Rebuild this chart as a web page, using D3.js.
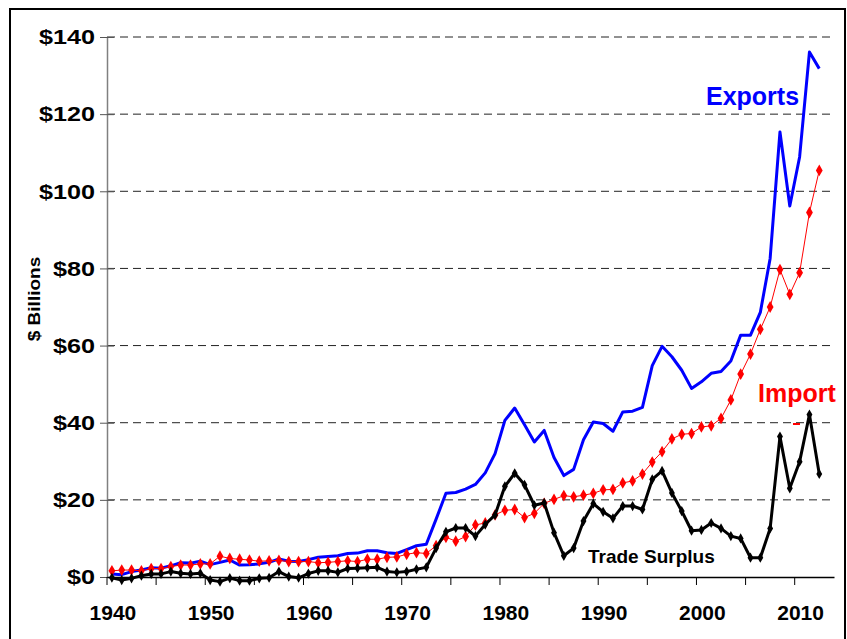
<!DOCTYPE html>
<html>
<head>
<meta charset="utf-8">
<script src="https://cdn.jsdelivr.net/npm/d3@7"></script>
<style>
  body { margin: 0; background: #fff; }
  svg { display: block; font-family: "Liberation Sans", Arial, sans-serif; }
</style>
</head>
<body>
<div id="chart"></div>
<script>
// categories: 1940..2013 on the axis, data through 2012
var years = [1940,1941,1942,1943,1944,1945,1946,1947,1948,1949,
             1950,1951,1952,1953,1954,1955,1956,1957,1958,1959,
             1960,1961,1962,1963,1964,1965,1966,1967,1968,1969,
             1970,1971,1972,1973,1974,1975,1976,1977,1978,1979,
             1980,1981,1982,1983,1984,1985,1986,1987,1988,1989,
             1990,1991,1992,1993,1994,1995,1996,1997,1998,1999,
             2000,2001,2002,2003,2004,2005,2006,2007,2008,2009,
             2010,2011,2012];
var axisYears = years.concat([2013]);

var exportVals = [0.8,0.6,1.4,1.8,2.4,2.3,2.9,3.7,3.6,4.1,
               3.2,3.8,4.4,3.1,3.2,3.4,3.8,4.7,4.1,4.0,
               4.5,5.1,5.3,5.5,6.1,6.2,6.8,6.8,6.3,6.1,
               7.1,8.1,8.5,15.0,21.7,21.9,22.8,24.0,27.0,32.0,
               40.6,43.8,39.5,35.0,38.0,31.0,26.3,27.9,35.6,40.2,
               39.8,37.8,42.8,43.0,44.0,54.8,59.8,57.1,53.6,48.9,
               50.6,52.8,53.3,56.0,62.7,62.7,68.6,82.6,115.4,96.2,
               108.9,136.1,131.8];

var importVals = [1.6,1.8,1.8,1.6,2.2,2.2,2.7,3.1,3.1,3.4,
               3.4,5.4,4.8,4.6,4.4,4.1,4.2,4.3,4.0,4.0,
               4.0,3.7,3.8,4.0,4.2,4.0,4.6,4.6,5.1,5.2,
               5.9,6.3,6.1,8.1,10.3,9.3,10.5,13.5,14.0,16.1,
               17.3,17.5,15.4,16.5,19.1,20.1,21.1,20.8,21.2,21.7,
               22.6,22.7,24.4,24.9,26.7,29.8,32.5,35.8,37.0,37.2,
               38.9,39.2,41.1,45.9,52.6,57.8,64.2,70.0,79.7,73.3,
               78.9,94.5,105.4];

var surplusVals = [-0.2,-0.8,-0.35,0.35,0.8,0.8,1.4,0.95,0.8,0.95,
               -0.8,-1.2,-0.3,-0.95,-0.95,-0.35,-0.2,1.4,0.1,-0.2,
               0.9,1.6,1.6,1.2,2.2,2.3,2.4,2.5,1.4,1.2,
               1.4,2.0,2.5,7.5,11.7,12.7,12.7,10.6,13.6,16.1,
               23.5,26.9,23.9,18.6,19.2,11.5,5.5,7.5,14.5,19.0,
               16.9,15.2,18.4,18.4,17.5,25.3,27.5,21.8,17.1,12.0,
               12.2,14.0,12.6,10.6,10.0,5.0,5.0,12.6,36.4,23.0,
               29.9,42.1,26.7];

var yTicks = [0, 20, 40, 60, 80, 100, 120, 140];
var xLabelYears = [1940, 1950, 1960, 1970, 1980, 1990, 2000, 2010];

var W = 847, H = 639;
var plotL = 107, plotR = 834, plotT = 37, plotB = 577;

var svg = d3.select("#chart").append("svg").attr("width", W).attr("height", H);

// outer frame
svg.append("rect").attr("x", 10).attr("y", 9).attr("width", 835).attr("height", 660)
  .attr("fill", "none").attr("stroke", "#000").attr("stroke-width", 2);

var x = d3.scaleBand().domain(axisYears).range([plotL, plotR]).padding(0);
var y = d3.scaleLinear().domain([0, 140]).range([plotB, plotT]);
var cx = function(yr) { return x(yr) + x.bandwidth() / 2; };

// dashed gridlines
svg.append("g").selectAll("line").data(yTicks.filter(function(d) { return d > 0; }))
  .enter().append("line")
  .attr("x1", plotL).attr("x2", plotR)
  .attr("y1", function(d) { return y(d); }).attr("y2", function(d) { return y(d); })
  .attr("stroke", "#222").attr("stroke-width", 1).attr("stroke-dasharray", "8,5");

// y axis
var yAxis = d3.axisLeft(y).tickValues(yTicks).tickSize(0).tickPadding(10)
  .tickFormat(function(d) { return "$" + d; });
var gy = svg.append("g").attr("transform", "translate(" + plotL + ",0)").call(yAxis);
gy.select(".domain").attr("stroke", "#808080").attr("stroke-width", 1.5);
gy.selectAll(".tick text").attr("font-size", 21).attr("font-weight", "bold")
  .attr("fill", "#000").attr("font-family", "Liberation Sans, Arial, sans-serif")
  .attr("transform", "scale(1.2,1)");
gy.selectAll(".tick").append("line").attr("x1", -7).attr("x2", 7)
  .attr("stroke", "#555").attr("stroke-width", 1);

// x axis
var tickYears = axisYears.filter(function(d, i) { return i % 5 === 0; });
var xAxis = d3.axisBottom(x).tickValues(tickYears).tickSize(0).tickFormat("");
var gx = svg.append("g").attr("transform", "translate(0," + plotB + ")").call(xAxis);
gx.select(".domain").attr("stroke", "#000").attr("stroke-width", 1.5);
gx.selectAll(".tick").remove();
gx.selectAll("line.tk").data(tickYears).enter().append("line").attr("class", "tk")
  .attr("x1", function(d) { return x(d); }).attr("x2", function(d) { return x(d); })
  .attr("y1", 0).attr("y2", 8).attr("stroke", "#000").attr("stroke-width", 1);
gx.selectAll("text.lbl").data(xLabelYears).enter().append("text").attr("class", "lbl")
  .attr("x", function(d) { return cx(d) + 1; }).attr("y", 43)
  .attr("text-anchor", "middle").attr("font-size", 21).attr("font-weight", "bold")
  .attr("fill", "#000").attr("font-family", "Liberation Sans, Arial, sans-serif")
  .text(function(d) { return d; });

// y axis title
svg.append("text").attr("transform", "translate(40,299) rotate(-90) scale(1.12,1)")
  .attr("text-anchor", "middle").attr("font-size", 17).attr("font-weight", "bold")
  .text("$ Billions");

function line(vals) {
  return d3.line().x(function(d, i) { return cx(years[i]); }).y(function(d) { return y(d); })(vals);
}
var diamond = d3.symbol().type(d3.symbolDiamond);

// exports
svg.append("path").attr("d", line(exportVals)).attr("fill", "none")
  .attr("stroke", "#0000ff").attr("stroke-width", 3).attr("stroke-linejoin", "round");

// imports
svg.append("path").attr("d", line(importVals)).attr("fill", "none")
  .attr("stroke", "#ff0000").attr("stroke-width", 1);
svg.append("g").selectAll("path").data(importVals).enter().append("path")
  .attr("d", diamond.size(40)())
  .attr("transform", function(d, i) { return "translate(" + cx(years[i]) + "," + y(d) + ")"; })
  .attr("fill", "#ff0000");

// trade surplus
svg.append("path").attr("d", line(surplusVals)).attr("fill", "none")
  .attr("stroke", "#000").attr("stroke-width", 3).attr("stroke-linejoin", "round");
svg.append("g").selectAll("path").data(surplusVals).enter().append("path")
  .attr("d", diamond.size(30)())
  .attr("transform", function(d, i) { return "translate(" + cx(years[i]) + "," + y(d) + ")"; })
  .attr("fill", "#000");

// series labels
svg.append("text").attr("x", 706).attr("y", 105).attr("font-size", 25).attr("font-weight", "bold")
  .attr("fill", "#0000ff").text("Exports");
svg.append("text").attr("x", 758).attr("y", 402).attr("font-size", 25).attr("font-weight", "bold")
  .attr("fill", "#ff0000").text("Import");
svg.append("line").attr("x1", 793).attr("x2", 800).attr("y1", 424).attr("y2", 424)
  .attr("stroke", "#ff0000").attr("stroke-width", 2);
svg.append("text").attr("x", 588).attr("y", 563).attr("font-size", 19).attr("font-weight", "bold")
  .attr("fill", "#000").text("Trade Surplus");
</script>
</body>
</html>
